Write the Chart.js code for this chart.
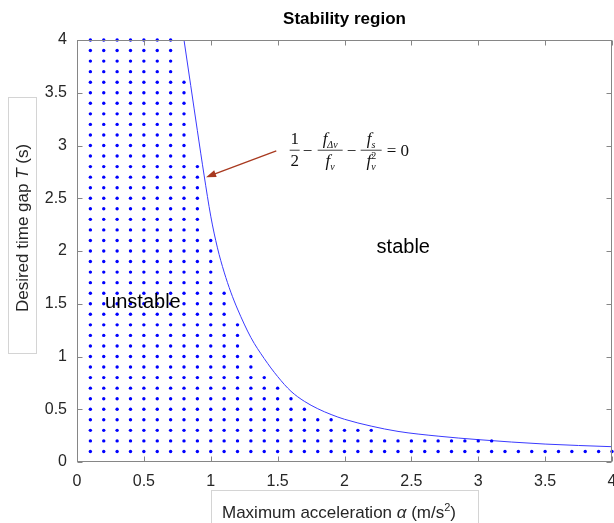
<!DOCTYPE html>
<html>
<head>
<meta charset="utf-8">
<script src="https://cdn.jsdelivr.net/npm/chart.js@4.4.1/dist/chart.umd.min.js"></script>
<style>
  html, body { margin: 0; padding: 0; background: #fff; }
  #wrap { width: 614px; height: 523px; }
</style>
</head>
<body>
<div id="wrap"><canvas id="myChart" width="614" height="523"></canvas></div>
<script>
// unstable samples: on row T the dots run from alpha = 0.1 up to rowMaxAlpha
const rowT = [0.1, 0.2, 0.3, 0.4, 0.5, 0.6, 0.7, 0.8, 0.9, 1.0,
              1.1, 1.2, 1.3, 1.4, 1.5, 1.6, 1.7, 1.8, 1.9, 2.0,
              2.1, 2.2, 2.3, 2.4, 2.5, 2.6, 2.7, 2.8, 2.9, 3.0,
              3.1, 3.2, 3.3, 3.4, 3.5, 3.6, 3.7, 3.8, 3.9, 4.0];
const rowMaxAlpha = [4.0, 3.1, 2.2, 1.9, 1.7, 1.6, 1.5, 1.4, 1.3, 1.3,
                     1.2, 1.2, 1.2, 1.1, 1.1, 1.1, 1.0, 1.0, 1.0, 1.0,
                     1.0, 0.9, 0.9, 0.9, 0.9, 0.9, 0.9, 0.9, 0.8, 0.8,
                     0.8, 0.8, 0.8, 0.8, 0.8, 0.8, 0.7, 0.7, 0.7, 0.7];
const alphaStep = 0.1;

// stability boundary
const boundaryAlpha = [0.80, 0.85, 0.90, 0.95, 1.00, 1.05, 1.10, 1.15, 1.20, 1.30, 1.40, 1.50,
                       1.60, 1.70, 1.80, 1.90, 2.00, 2.20, 2.40, 2.70, 3.00, 3.50, 4.00];
const boundaryT = [4.00, 3.57, 3.14, 2.72, 2.33, 2.03, 1.80, 1.61, 1.45, 1.18, 0.98, 0.81,
                   0.67, 0.575, 0.505, 0.45, 0.405, 0.34, 0.29, 0.245, 0.212, 0.17, 0.145];

const xTicks = [0, 0.5, 1, 1.5, 2, 2.5, 3, 3.5, 4];
const yTicks = [0, 0.5, 1, 1.5, 2, 2.5, 3, 3.5, 4];

const unstablePts = [];
rowT.forEach((t, i) => {
    const n = Math.round(rowMaxAlpha[i] / alphaStep);
    for (let k = 1; k <= n; k++) unstablePts.push({ x: +(k * alphaStep).toFixed(1), y: t });
});
const boundaryPts = boundaryAlpha.map((a, i) => ({ x: a, y: boundaryT[i] }));

const axisColor = '#868686';
const textColor = '#262626';

// parts: [text, font, dy, noAdvance]
function drawRich(ctx, parts, x, y) {
    let cx = x;
    parts.forEach(p => {
        ctx.font = p[1];
        ctx.fillText(p[0], cx, y + (p[2] || 0));
        if (!p[3]) cx += ctx.measureText(p[0]).width;
    });
    return cx;
}
function richWidth(ctx, parts) {
    let w = 0;
    parts.forEach(p => { ctx.font = p[1]; if (!p[3]) w += ctx.measureText(p[0]).width; });
    return w;
}

const decorPlugin = {
    id: 'decor',
    afterDraw(chart) {
        const { ctx, chartArea: a, scales: { x, y } } = chart;
        ctx.save();

        // frame and inward ticks
        ctx.strokeStyle = axisColor;
        ctx.lineWidth = 1;
        const L = Math.round(a.left) + 0.5, R = Math.round(a.right) - 0.5;
        const T = Math.round(a.top) + 0.5, B = Math.round(a.bottom) - 0.5;
        ctx.strokeRect(L, T, R - L, B - T);
        ctx.beginPath();
        xTicks.forEach(v => {
            const px = Math.round(x.getPixelForValue(v)) + 0.5;
            ctx.moveTo(px, B); ctx.lineTo(px, B - 5);
            ctx.moveTo(px, T); ctx.lineTo(px, T + 5);
        });
        yTicks.forEach(v => {
            const py = Math.round(y.getPixelForValue(v)) + 0.5;
            ctx.moveTo(L, py); ctx.lineTo(L + 5, py);
            ctx.moveTo(R, py); ctx.lineTo(R - 5, py);
        });
        ctx.stroke();

        // title
        ctx.fillStyle = '#000';
        ctx.textAlign = 'center';
        ctx.textBaseline = 'alphabetic';
        ctx.font = 'bold 17px "Liberation Sans", Arial, sans-serif';
        ctx.fillText('Stability region', (a.left + a.right) / 2, 24);

        // region labels
        ctx.fillStyle = '#000';
        ctx.font = '20px "Liberation Sans", Arial, sans-serif';
        ctx.textAlign = 'left';
        ctx.fillText('stable', x.getPixelForValue(2.24), y.getPixelForValue(1.98));
        ctx.fillText('unstable', x.getPixelForValue(0.21), y.getPixelForValue(1.46));

        // arrow to the boundary
        const x0 = x.getPixelForValue(1.49), y0 = y.getPixelForValue(2.95);
        const x1 = x.getPixelForValue(0.965), y1 = y.getPixelForValue(2.70);
        const ang = Math.atan2(y1 - y0, x1 - x0);
        ctx.strokeStyle = '#a8391f';
        ctx.fillStyle = '#a8391f';
        ctx.lineWidth = 1.3;
        ctx.beginPath();
        ctx.moveTo(x0, y0);
        ctx.lineTo(x1 - 8 * Math.cos(ang), y1 - 8 * Math.sin(ang));
        ctx.stroke();
        ctx.beginPath();
        ctx.moveTo(x1, y1);
        ctx.lineTo(x1 - 10 * Math.cos(ang) + 3.5 * Math.sin(ang), y1 - 10 * Math.sin(ang) - 3.5 * Math.cos(ang));
        ctx.lineTo(x1 - 10 * Math.cos(ang) - 3.5 * Math.sin(ang), y1 - 10 * Math.sin(ang) + 3.5 * Math.cos(ang));
        ctx.closePath();
        ctx.fill();

        // equation 1/2 - fdv/fv - fs/fv^2 = 0
        const ex = x.getPixelForValue(1.59), ey = y.getPixelForValue(2.96);
        const rm = '17px "Liberation Serif", "Times New Roman", serif';
        const it = 'italic 17px "Liberation Serif", "Times New Roman", serif';
        const sub = 'italic 10px "Liberation Serif", "Times New Roman", serif';
        const subR = '10px "Liberation Serif", "Times New Roman", serif';
        ctx.fillStyle = '#111';
        ctx.strokeStyle = '#111';
        ctx.lineWidth = 0.8;
        ctx.textAlign = 'left';
        const frac = (left, num, den, width) => {
            ctx.beginPath();
            ctx.moveTo(left, ey + 0.5); ctx.lineTo(left + width, ey + 0.5);
            ctx.stroke();
            drawRich(ctx, num, left + (width - richWidth(ctx, num)) / 2, ey - 6);
            drawRich(ctx, den, left + (width - richWidth(ctx, den)) / 2, ey + 16);
        };
        frac(ex, [['1', rm]], [['2', rm]], 10);
        ctx.font = rm;
        ctx.fillText('\u2212', ex + 13, ey + 6);
        frac(ex + 28, [['f', it], ['\u0394v', sub, 4]], [['f', it], ['v', sub, 4]], 25);
        ctx.font = rm;
        ctx.fillText('\u2212', ex + 57, ey + 6);
        frac(ex + 71, [['f', it], ['s', sub, 4]], [['f', it], ['2', subR, -7, true], ['v', sub, 4]], 21);
        ctx.font = rm;
        ctx.fillText('= 0', ex + 97, ey + 6);

        // axis label boxes
        ctx.strokeStyle = '#d4d4d4';
        ctx.lineWidth = 1;
        ctx.strokeRect(8.5, 97.5, 28, 256);
        ctx.strokeRect(211.5, 490.5, 267, 40);

        ctx.fillStyle = textColor;
        const lab = '17px "Liberation Sans", Arial, sans-serif';
        const labI = 'italic 17px "Liberation Sans", Arial, sans-serif';
        const labS = '11px "Liberation Sans", Arial, sans-serif';
        const xParts = [['Maximum acceleration ', lab], ['\u03b1', labI], [' (m/s', lab], ['2', labS, -7], [')', lab]];
        drawRich(ctx, xParts, 339 - richWidth(ctx, xParts) / 2, 518);

        const yParts = [['Desired time gap ', lab], ['T', labI], [' (s)', lab]];
        ctx.save();
        ctx.translate(28, 228);
        ctx.rotate(-Math.PI / 2);
        drawRich(ctx, yParts, -richWidth(ctx, yParts) / 2, 0);
        ctx.restore();

        ctx.restore();
    }
};

const ctx = document.getElementById('myChart').getContext('2d');
const chart = new Chart(ctx, {
    type: 'scatter',
    data: {
        datasets: [
            {
                label: 'unstable',
                data: unstablePts,
                pointRadius: 1.7,
                pointBackgroundColor: '#0000ff',
                pointBorderWidth: 0,
                clip: false
            },
            {
                label: 'boundary',
                type: 'line',
                data: boundaryPts,
                borderColor: '#3a3aff',
                borderWidth: 1,
                pointRadius: 0,
                cubicInterpolationMode: 'monotone',
                fill: false
            }
        ]
    },
    options: {
        responsive: false,
        animation: false,
        devicePixelRatio: 1,
        layout: { autoPadding: false, padding: { top: 40, right: 2, left: 0, bottom: 0 } },
        plugins: {
            legend: { display: false },
            tooltip: { enabled: false }
        },
        scales: {
            x: {
                type: 'linear',
                min: 0,
                max: 4,
                afterFit(scale) {
                    scale.height = 61;
                    scale.paddingLeft = 0;
                    scale.paddingRight = 0;
                },
                afterBuildTicks(scale) { scale.ticks = xTicks.map(v => ({ value: v })); },
                grid: { display: false, drawTicks: false },
                border: { display: false },
                ticks: {
                    color: textColor,
                    padding: 10,
                    maxRotation: 0,
                    callback: v => String(v),
                    font: { family: '"Liberation Sans", Arial, sans-serif', size: 16 }
                }
            },
            y: {
                type: 'linear',
                min: 0,
                max: 4,
                afterFit(scale) {
                    scale.width = 77;
                    scale.paddingTop = 0;
                    scale.paddingBottom = 0;
                },
                afterBuildTicks(scale) { scale.ticks = yTicks.map(v => ({ value: v })); },
                grid: { display: false, drawTicks: false },
                border: { display: false },
                ticks: {
                    color: textColor,
                    padding: 10,
                    callback: v => String(v),
                    font: { family: '"Liberation Sans", Arial, sans-serif', size: 16 }
                }
            }
        }
    },
    plugins: [decorPlugin]
});
</script>
</body>
</html>
